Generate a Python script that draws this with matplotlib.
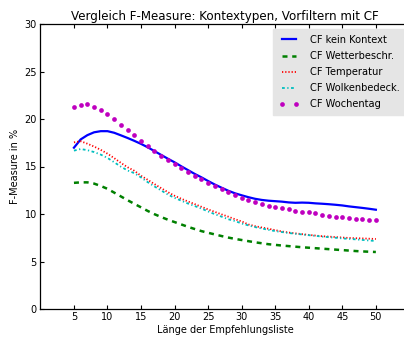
import numpy as np
import matplotlib
matplotlib.use('Agg')
import matplotlib.pyplot as plt

plt.rcParams['lines.scale_dashes'] = False

# list lengths 5..50
laenge = list(range(5, 51))

# F-Measure in %
kein_kontext = [16.98, 17.85, 18.3, 18.6, 18.72, 18.72, 18.55, 18.28, 18.0, 17.7,
                17.38, 17.02, 16.62, 16.22, 15.82, 15.44, 15.02, 14.62, 14.22, 13.86,
                13.47, 13.1, 12.77, 12.45, 12.18, 11.97, 11.77, 11.6, 11.48, 11.4,
                11.35, 11.3, 11.22, 11.18, 11.2, 11.18, 11.12, 11.08, 11.03, 10.97,
                10.9, 10.8, 10.72, 10.64, 10.55, 10.45]
wetter = [13.28, 13.33, 13.33, 13.2, 12.95, 12.65, 12.25, 11.85, 11.45, 11.07,
          10.7, 10.32, 9.98, 9.68, 9.4, 9.15, 8.9, 8.65, 8.42, 8.2,
          8.02, 7.85, 7.68, 7.52, 7.38, 7.26, 7.14, 7.02, 6.92, 6.82,
          6.75, 6.68, 6.62, 6.56, 6.5, 6.45, 6.4, 6.35, 6.3, 6.25,
          6.2, 6.15, 6.1, 6.06, 6.03, 6.0]
temperatur = [17.54, 17.66, 17.4, 17.1, 16.75, 16.35, 15.88, 15.38, 14.92, 14.55,
              14.02, 13.6, 13.15, 12.72, 12.3, 11.92, 11.6, 11.32, 11.04, 10.76,
              10.48, 10.22, 9.96, 9.72, 9.45, 9.22, 8.9, 8.72, 8.58, 8.45,
              8.3, 8.16, 8.05, 7.96, 7.88, 7.8, 7.73, 7.66, 7.62, 7.57,
              7.52, 7.48, 7.45, 7.43, 7.4, 7.37]
wolken = [16.67, 16.84, 16.72, 16.52, 16.25, 15.9, 15.45, 14.98, 14.58, 14.3,
          13.85, 13.35, 12.9, 12.48, 12.05, 11.7, 11.4, 11.1, 10.84, 10.57,
          10.27, 9.98, 9.72, 9.45, 9.26, 9.0, 8.8, 8.62, 8.48, 8.33,
          8.2, 8.1, 8.0, 7.92, 7.85, 7.77, 7.7, 7.62, 7.56, 7.5,
          7.43, 7.38, 7.33, 7.27, 7.21, 7.16]
wochentag = [21.23, 21.5, 21.55, 21.3, 20.98, 20.5, 19.97, 19.4, 18.8, 18.27,
             17.7, 17.18, 16.63, 16.14, 15.7, 15.28, 14.82, 14.4, 14.03, 13.65,
             13.26, 12.9, 12.6, 12.29, 11.97, 11.68, 11.44, 11.26, 11.05, 10.88,
             10.7, 10.63, 10.49, 10.35, 10.25, 10.18, 10.07, 9.93, 9.82, 9.72,
             9.65, 9.58, 9.5, 9.47, 9.4, 9.37]

fig = plt.figure(figsize=(4.04, 3.40), dpi=100)
# axes reaches a bit past the right border, like the cropped original
ax = fig.add_axes([40.4/404, 31/340, 369/404, 285/340])

ax.plot(laenge, kein_kontext, '-', color=(0, 0, 1), lw=1.6, label='CF kein Kontext')
ax.plot(laenge, wetter, '--', color=(0, 0.5, 0), lw=1.8, dashes=(3.6, 3.4),
        label='CF Wetterbeschr.')
ax.plot(laenge, temperatur, ':', color=(1, 0, 0), lw=1.3, dashes=(0.9, 1.4),
        label='CF Temperatur')
ax.plot(laenge, wolken, '-.', color=(0, 0.75, 0.75), lw=1.3,
        dashes=(2.0, 1.8, 0.9, 1.8), label='CF Wolkenbedeck.')
ax.plot(laenge, wochentag, 'o', color=(0.75, 0, 0.75), ms=3.4, mew=0,
        label='CF Wochentag')

ax.set_xlim(0, 55)
ax.set_ylim(0, 30)
ax.set_xticks(range(5, 51, 5))
ax.set_yticks(range(0, 31, 5))
ax.tick_params(direction='in', top=True, right=True, length=3, width=0.8,
               labelsize=7, pad=2.5)
for s in ax.spines.values():
    s.set_linewidth(0.9)

ax.set_title('Vergleich F-Measure: Kontextypen, Vorfiltern mit CF', fontsize=8.6, pad=3)
ax.set_xlabel('Länge der Empfehlungsliste', fontsize=7, labelpad=2)
ax.set_ylabel('F-Measure in %', fontsize=7, labelpad=3)

leg = ax.legend(loc='upper right', bbox_to_anchor=(0.9908, 0.9825), fontsize=7.1,
                numpoints=2, borderaxespad=0, borderpad=0.6, handletextpad=1.15,
                handlelength=2.0, fancybox=False, labelspacing=0.62)
leg.get_frame().set_facecolor('#e5e5e5')
leg.get_frame().set_edgecolor('#e5e5e5')
leg.get_frame().set_alpha(1)

fig.savefig('out.png', dpi=100)
